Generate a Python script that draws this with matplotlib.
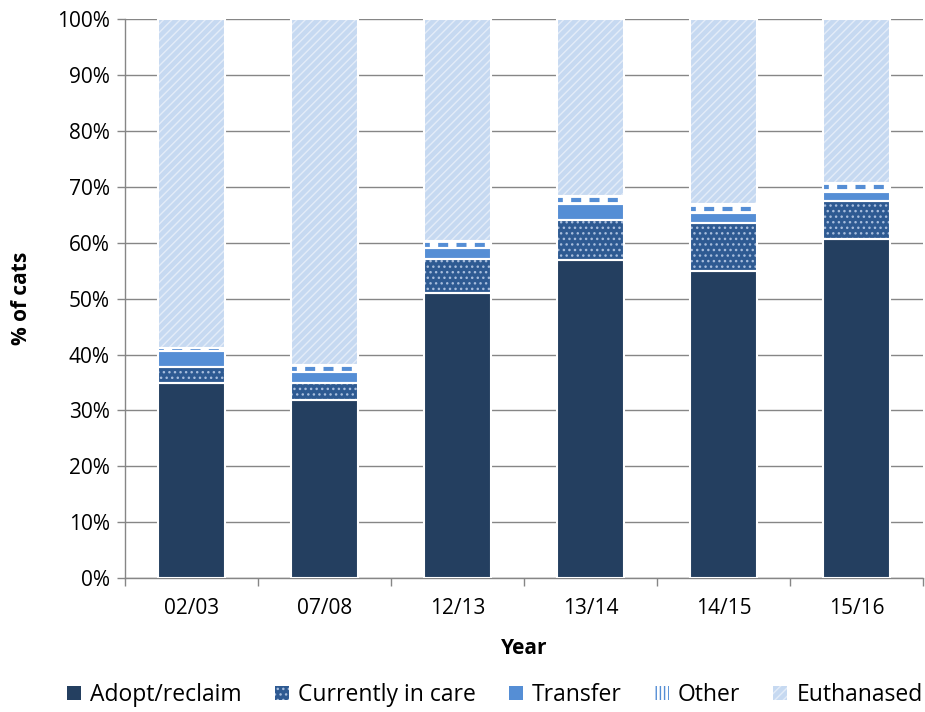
import matplotlib
matplotlib.use("Agg")
import matplotlib.pyplot as plt
from matplotlib.patches import Patch
import numpy as np

years = ["02/03", "07/08", "12/13", "13/14", "14/15", "15/16"]
adopt = [34.9, 31.8, 51.0, 56.9, 54.9, 60.6]
care = [2.8, 3.1, 6.1, 7.2, 8.6, 6.9]
transfer = [2.9, 1.9, 1.9, 2.9, 1.8, 1.6]
other = [0.6, 1.4, 1.3, 1.3, 1.6, 1.6]
euth = [100 - a - b - c - d for a, b, c, d in zip(adopt, care, transfer, other)]

labels = ["Adopt/reclaim", "Currently in care", "Transfer", "Other", "Euthanased"]
series = [adopt, care, transfer, other, euth]
faces = ["#243F60", "#2E5A92", "#558ED5", "#FFFFFF", "#C6D9F1"]
hatches = [None, "...", None, None, "////"]
hcolors = ["#243F60", "#A7BDDD", "#558ED5", "#558ED5", "#E3ECF8"]

plt.rcParams['font.family'] = ['Open Sans', 'DejaVu Sans']
plt.rcParams['hatch.linewidth'] = 1.0

fig = plt.figure(figsize=(9.25, 7.12), dpi=100)
ax = fig.add_axes([0.135, 0.188, 0.863, 0.785])

x = np.arange(len(years))
width = 0.5
bottom = np.zeros(len(years))
handles = []
for vals, fc, h, hc, lab in zip(series, faces, hatches, hcolors, labels):
    vals = np.array(vals)
    ax.bar(x, vals, width, bottom=bottom, color=fc, edgecolor=hc if h else fc,
           hatch=h, linewidth=0, zorder=2)
    if lab == "Other":
        ax.hlines(bottom + vals / 2, x - width / 2, x + width / 2, colors="#558ED5",
                  linewidth=3.0, linestyles=(1, (2.4, 2.0)), zorder=2.5)
        handles.append(Patch(facecolor="#FFFFFF", edgecolor="#558ED5", hatch="||||",
                             linewidth=0, label=lab))
    else:
        handles.append(Patch(facecolor=fc, edgecolor=hc if h else fc, hatch=h,
                             linewidth=0, label=lab))
    ax.bar(x, vals, width, bottom=bottom, facecolor='none', edgecolor='white',
           linewidth=1.5, zorder=3)
    bottom += vals

ax.set_xlim(-0.5, len(years) - 0.5)
ax.set_ylim(0, 100)
ax.set_yticks(np.arange(0, 101, 10))
ax.set_yticklabels([f"{v}%" for v in range(0, 101, 10)], fontsize=15)
ax.set_xticks(x)
ax.set_xticklabels(years, fontsize=15)
ax.set_xticks(np.arange(-0.5, len(years), 1), minor=True)
ax.tick_params(axis='x', which='major', length=0, pad=14)
ax.tick_params(axis='x', which='minor', length=6, color='#868686', width=1)
ax.tick_params(axis='y', length=6, color='#868686', width=1, pad=5)
ax.yaxis.grid(True, color='#868686', linewidth=1, zorder=0)
ax.set_axisbelow(True)
for s in ['top', 'right']:
    ax.spines[s].set_visible(False)
for s in ['left', 'bottom']:
    ax.spines[s].set_color('#868686')
    ax.spines[s].set_linewidth(1)

ax.set_ylabel("% of cats", fontsize=15, fontweight='bold', labelpad=18)
ax.set_xlabel("Year", fontsize=15, fontweight='bold', labelpad=14)

fig.legend(handles=handles, loc='lower center', bbox_to_anchor=(0.535, -0.022), ncol=5,
           frameon=False, fontsize=16.5, handlelength=0.6, handleheight=0.6,
           handletextpad=0.4, columnspacing=1.45)

fig.savefig("out.png", dpi=100)
